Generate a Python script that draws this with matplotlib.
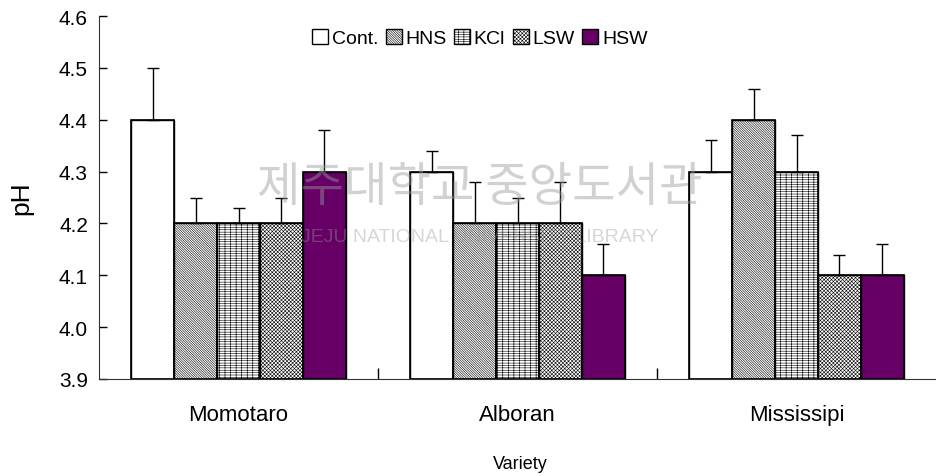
import numpy as np
import matplotlib
matplotlib.use("Agg")
import matplotlib.pyplot as plt
from matplotlib.ticker import FixedLocator

plt.rcParams["font.family"] = ["Liberation Sans", "DejaVu Sans"]
plt.rcParams["hatch.linewidth"] = 0.4

varieties = ["Momotaro", "Alboran", "Mississipi"]
treatments = ["Cont.", "HNS", "KCl", "LSW", "HSW"]

ph_means = {
    "Cont.": [4.40, 4.30, 4.30],
    "HNS": [4.20, 4.20, 4.40],
    "KCl": [4.20, 4.20, 4.30],
    "LSW": [4.20, 4.20, 4.10],
    "HSW": [4.30, 4.10, 4.10],
}
ph_err = {
    "Cont.": [0.10, 0.04, 0.06],
    "HNS": [0.05, 0.08, 0.06],
    "KCl": [0.03, 0.05, 0.07],
    "LSW": [0.05, 0.08, 0.04],
    "HSW": [0.08, 0.06, 0.06],
}

# fill, hatch pattern, hatch colour
styles = {
    "Cont.": ("white", None, "black"),
    "HNS": ("white", "\\" * 14, "#707070"),
    "KCl": ("white", "-" * 7 + "|" * 3, "#404040"),
    "LSW": ("white", "x" * 9, "#a8a8a8"),
    "HSW": ("#660066", None, "black"),
}

fig = plt.figure(figsize=(9.36, 4.77), dpi=100)
ax = fig.add_axes([99 / 936, 1 - 380 / 477, 837 / 936, 363 / 477])

x = np.arange(len(varieties))
width = 0.154
handles = []
for i, t in enumerate(treatments):
    pos = x + (i - 2) * width
    fc, hatch, hc = styles[t]
    with plt.rc_context({"hatch.color": hc}):
        bars = ax.bar(pos, np.array(ph_means[t]) - 3.9, width, bottom=3.9,
                      facecolor=fc, hatch=hatch, edgecolor="black",
                      linewidth=1.0, label=t, zorder=2)
    # outline again so hatch colour does not tint the border
    ax.bar(pos, np.array(ph_means[t]) - 3.9, width, bottom=3.9,
           fill=False, edgecolor="black", linewidth=1.2, zorder=2.5)
    ax.errorbar(pos, ph_means[t], yerr=[np.zeros(3), ph_err[t]], fmt="none",
                ecolor="black", elinewidth=1.0, capsize=4, capthick=1.0, zorder=3)
    handles.append(bars)

ax.set_xlim(-0.5, 2.5)
ax.set_ylim(3.9, 4.6)
ax.set_yticks(np.arange(3.9, 4.61, 0.1))
ax.set_yticklabels([f"{v:.1f}" for v in np.arange(3.9, 4.61, 0.1)], fontsize=15)
ax.set_xticks(x)
ax.set_xticklabels(varieties, fontsize=16)
ax.xaxis.set_minor_locator(FixedLocator([0.5, 1.5]))
ax.tick_params(axis="x", which="major", length=0, pad=18)
ax.tick_params(axis="x", which="minor", direction="in", length=8, width=1)
ax.tick_params(axis="y", direction="in", length=6, width=1, pad=8)
for s in ["top", "right"]:
    ax.spines[s].set_visible(False)
ax.spines["left"].set_color("#333333")
ax.spines["bottom"].set_color("#333333")

ax.set_ylabel("pH", fontsize=19, labelpad=18)
fig.text(520 / 936, 1 - 465 / 477, "Variety", fontsize=13, ha="center", va="center")

# library watermark
fig.text(480 / 936, 1 - 188 / 477, "제주대학교 중앙도서관", fontsize=34,
         family=["Noto Sans CJK KR", "DejaVu Sans"], color="#9a9a9a",
         alpha=0.45, ha="center", va="center", zorder=5)
fig.text(480 / 936, 1 - 238 / 477, "JEJU NATIONAL UNIVERSITY LIBRARY", fontsize=14,
         color="#9a9a9a", alpha=0.4, ha="center", va="center", zorder=5)

ax.legend(handles=handles, loc="upper center", bbox_to_anchor=(0.455, 0.985),
          ncol=5, frameon=False, fontsize=14, handlelength=0.8, handleheight=0.8,
          handletextpad=0.2, columnspacing=0.4, borderaxespad=0)

fig.savefig("out.png", dpi=100)
